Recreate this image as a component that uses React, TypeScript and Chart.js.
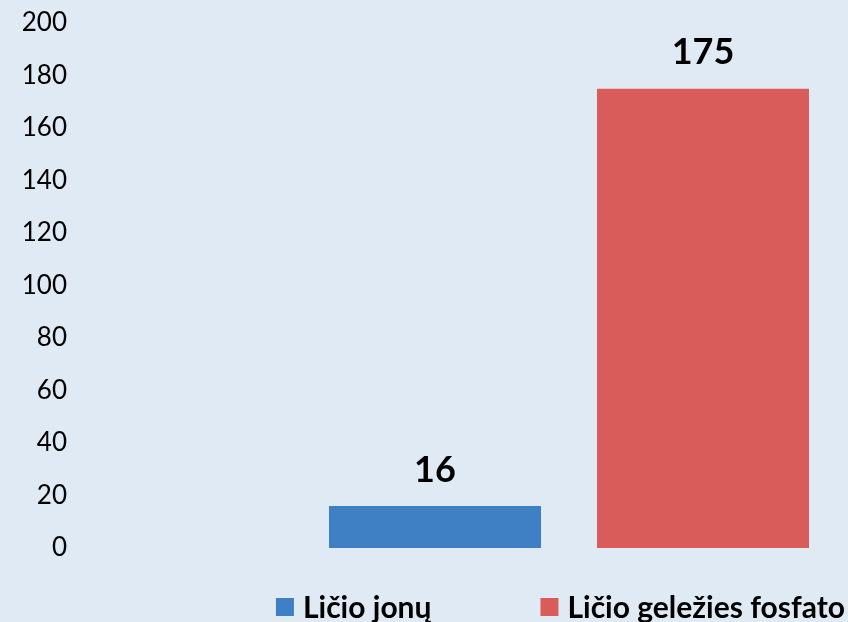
import React, { useEffect, useRef } from "react";
import { Chart, registerables } from "chart.js";

Chart.register(...registerables);

const seriesLabels = ["Ličio jonų", "Ličio geležies fosfato"];
const seriesValues = [16, 175];
const seriesColors = ["#3e80c3", "#d95c5a"];
const categories = [""];
const yMin = 0;
const yMax = 200;
const yStep = 20;

const BG = "#e0eaf4";
const FONT = "Lato, 'Open Sans', sans-serif";

const valueLabelPlugin = {
  id: "valueLabels",
  afterDatasetsDraw(chart: any) {
    const ctx = chart.ctx;
    ctx.save();
    ctx.font = `bold 36px ${FONT}`;
    ctx.fillStyle = "#000";
    ctx.textAlign = "center";
    ctx.textBaseline = "middle";
    chart.data.datasets.forEach((ds: any, i: number) => {
      const meta = chart.getDatasetMeta(i);
      meta.data.forEach((el: any, j: number) => {
        const v = ds.data[j];
        if (v == null) return;
        ctx.fillText(String(v), el.x, el.y - 36);
      });
    });
    ctx.restore();
  },
};

const legendPlugin = {
  id: "customLegend",
  afterDraw(chart: any) {
    const ctx = chart.ctx;
    ctx.save();
    ctx.font = `bold 30px ${FONT}`;
    ctx.textBaseline = "middle";
    ctx.textAlign = "left";
    const box = 18;
    const gapBoxText = 9;
    const gapItems = 109;
    const items = chart.data.datasets.map((ds: any) => ({
      label: ds.label,
      color: ds.backgroundColor,
      w: ctx.measureText(ds.label).width,
    }));
    let total = 0;
    items.forEach((it: any, i: number) => {
      total += box + gapBoxText + it.w + (i > 0 ? gapItems : 0);
    });
    let x = 845 - total;
    const y = 607;
    items.forEach((it: any) => {
      ctx.fillStyle = it.color;
      ctx.fillRect(x, y - box / 2, box, box);
      ctx.fillStyle = "#000";
      ctx.fillText(it.label, x + box + gapBoxText, y + 1);
      x += box + gapBoxText + it.w + gapItems;
    });
    ctx.restore();
  },
};

export default function App() {
  const canvasRef = useRef<HTMLCanvasElement | null>(null);

  useEffect(() => {
    if (!canvasRef.current) return;
    const chart = new Chart(canvasRef.current, {
      type: "bar",
      data: {
        labels: categories,
        datasets: seriesLabels.map((label, i) => ({
          label,
          data: [seriesValues[i]],
          backgroundColor: seriesColors[i],
          borderWidth: 0,
          categoryPercentage: 1,
          barPercentage: 212 / 268,
        })),
      },
      options: {
        animation: false,
        responsive: false,
        devicePixelRatio: 1,
        layout: { padding: { top: 23, bottom: 74, right: 11, left: 0 } },
        plugins: {
          legend: { display: false },
          tooltip: { enabled: false },
        },
        scales: {
          x: { display: false },
          y: {
            min: yMin,
            max: yMax,
            grid: { display: false, drawTicks: false },
            border: { display: false },
            ticks: {
              stepSize: yStep,
              padding: 234,
              color: "#000",
              font: { family: FONT, size: 26 },
            },
            afterFit(scale: any) {
              scale.width = 301;
              scale.paddingTop = 16;
              scale.paddingBottom = 16;
            },
          },
        },
      },
      plugins: [valueLabelPlugin, legendPlugin],
    });
    return () => chart.destroy();
  }, []);

  return (
    <div
      style={{
        position: "absolute",
        left: 0,
        top: 0,
        width: 848,
        height: 622,
        background: BG,
      }}
    >
      <canvas ref={canvasRef} width={848} height={622} style={{ display: "block" }} />
    </div>
  );
}
